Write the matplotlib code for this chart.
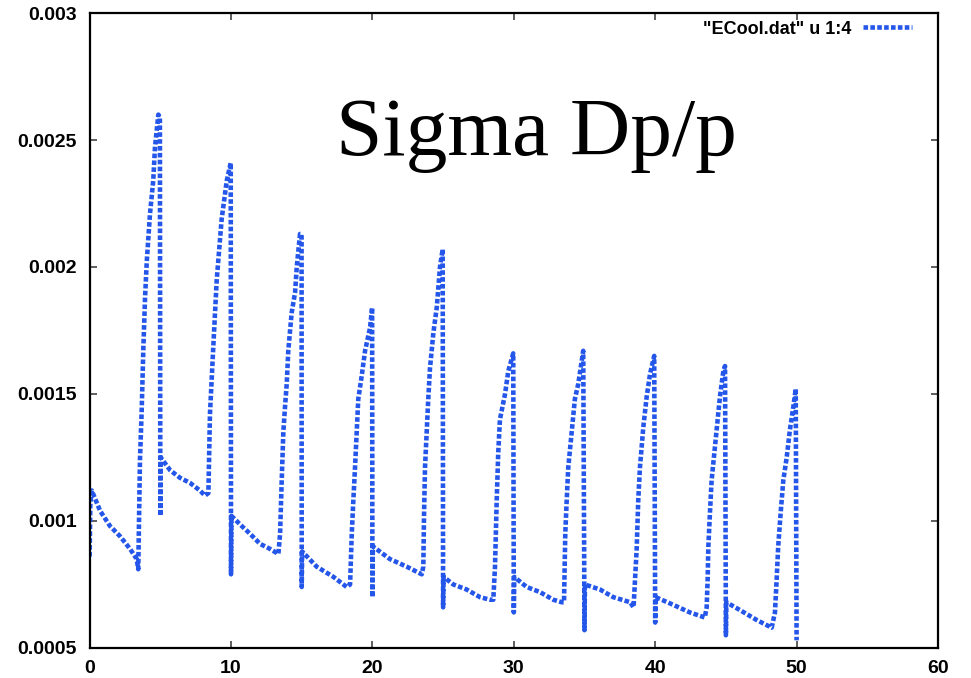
import matplotlib
matplotlib.use("Agg")
import matplotlib.pyplot as plt

# Time (column 1) and sigma Dp/p (column 4) from ECool.dat, one cooling cycle per row
t = [
    0.0, 0.05, 0.15, 0.74, 1.44, 2.15, 2.86, 3.33, 3.44, 3.51, 3.56, 3.68, 3.80, 3.92, 4.04, 4.27, 4.50, 4.62, 4.86, 4.97, 5.0, 5.03,
    5.69, 6.39, 7.10, 7.80, 8.16, 8.40, 8.51, 8.75, 8.99, 9.34, 9.70, 9.98, 10.0, 10.03,
    10.76, 11.34, 12.05, 12.76, 13.35, 13.47, 13.58, 13.70, 13.82, 13.94, 14.05, 14.29, 14.53, 14.65, 14.88, 14.99, 15.0, 15.03,
    16.06, 17.24, 18.18, 18.42, 18.54, 18.65, 18.77, 18.89, 19.00, 19.24, 19.48, 19.83, 19.98, 20.0, 20.03,
    21.24, 22.43, 23.49, 23.60, 23.65, 23.72, 23.84, 23.95, 24.07, 24.31, 24.55, 24.78, 24.97, 25.0, 25.03,
    25.72, 26.67, 27.61, 28.32, 28.55, 28.67, 28.79, 28.90, 29.02, 29.38, 29.61, 29.96, 30.0, 30.03,
    30.91, 31.85, 32.79, 33.39, 33.55, 33.64, 33.74, 33.85, 34.09, 34.32, 34.56, 34.91, 35.0, 35.03,
    36.10, 37.04, 38.23, 38.47, 38.69, 38.80, 38.92, 39.16, 39.40, 39.64, 39.93, 40.0, 40.03,
    41.27, 42.45, 43.51, 43.64, 43.71, 43.76, 43.87, 43.99, 44.15, 44.35, 44.58, 44.82, 44.94, 45.0, 45.03,
    45.97, 47.18, 48.24, 48.47, 48.59, 48.70, 48.87, 49.06, 49.30, 49.53, 49.77, 49.94, 50.0,
]
sigma_dpp = [
    0.00086, 0.00107, 0.00112, 0.00104, 0.00098, 0.00094, 0.00089, 0.00085, 0.00081, 0.00106, 0.00124, 0.00143, 0.00168, 0.00188, 0.00202, 0.00221, 0.00234, 0.00247, 0.00260, 0.00259, 0.00102, 0.00125,
    0.00120, 0.00117, 0.00115, 0.00112, 0.00110, 0.00111, 0.00142, 0.00169, 0.00195, 0.00219, 0.00234, 0.00241, 0.00079, 0.00102,
    0.00098, 0.00095, 0.00091, 0.00089, 0.00087, 0.00095, 0.00115, 0.00135, 0.00145, 0.00154, 0.00167, 0.00182, 0.00190, 0.00200, 0.00213, 0.00213, 0.00074, 0.00088,
    0.00082, 0.00078, 0.00074, 0.00075, 0.00095, 0.00108, 0.00121, 0.00135, 0.00148, 0.00157, 0.00167, 0.00176, 0.00184, 0.00070, 0.00090,
    0.00085, 0.00082, 0.00079, 0.00082, 0.00102, 0.00121, 0.00135, 0.00148, 0.00160, 0.00174, 0.00184, 0.00200, 0.00207, 0.00066, 0.00078,
    0.00075, 0.00073, 0.00070, 0.00069, 0.00069, 0.00082, 0.00108, 0.00127, 0.00140, 0.00150, 0.00159, 0.00166, 0.00064, 0.00078,
    0.00074, 0.00072, 0.00069, 0.00068, 0.00068, 0.00095, 0.00108, 0.00121, 0.00135, 0.00148, 0.00154, 0.00167, 0.00057, 0.00075,
    0.00073, 0.00070, 0.00068, 0.00066, 0.00089, 0.00108, 0.00121, 0.00137, 0.00149, 0.00158, 0.00165, 0.00060, 0.00070,
    0.00067, 0.00064, 0.00062, 0.00066, 0.00077, 0.00090, 0.00103, 0.00116, 0.00125, 0.00136, 0.00149, 0.00159, 0.00161, 0.00055, 0.00068,
    0.00065, 0.00061, 0.00058, 0.00064, 0.00077, 0.00090, 0.00103, 0.00116, 0.00125, 0.00136, 0.00145, 0.00152, 0.00053,
]

x_ticks = [0, 10, 20, 30, 40, 50, 60]
y_ticks = [0.0005, 0.001, 0.0015, 0.002, 0.0025, 0.003]
y_tick_labels = ["0.0005", "0.001", "0.0015", "0.002", "0.0025", "0.003"]
series_label = '"ECool.dat" u 1:4'
title_text = "Sigma Dp/p"

line_color = "#2456EA"
tick_font = {"family": "Liberation Sans", "weight": "bold", "size": 14}

fig = plt.figure(figsize=(9.71, 6.78), dpi=100)
ax = fig.add_axes([0.0923, 0.0443, 0.8737, 0.9365])

ax.plot(t, sigma_dpp, color=line_color, linewidth=3.3,
        dashes=(1.0, 0.5), dash_capstyle="butt", label=series_label)

ax.set_xlim(0, 60)
ax.set_ylim(0.0005, 0.003)
ax.set_xticks(x_ticks)
ax.set_xticklabels([str(v) for v in x_ticks], fontdict=tick_font)
ax.set_yticks(y_ticks)
ax.set_yticklabels(y_tick_labels, fontdict=tick_font)

ax.tick_params(direction="in", length=5, width=1.1, color="#333333",
               top=True, right=True, pad=9)
for spine in ax.spines.values():
    spine.set_linewidth(1.6)
    spine.set_color("black")

leg = ax.legend(loc="upper right", bbox_to_anchor=(0.9694, 0.988),
                frameon=False, markerfirst=False, borderpad=0, borderaxespad=0,
                handlelength=2.7, handletextpad=0.65,
                prop={"family": "Liberation Sans", "weight": "bold", "size": 13})

fig.text(336 / 971, 1 - 155 / 678, title_text, family="Liberation Serif",
         fontsize=60, ha="left", va="baseline")

fig.savefig("out.png", dpi=100)
